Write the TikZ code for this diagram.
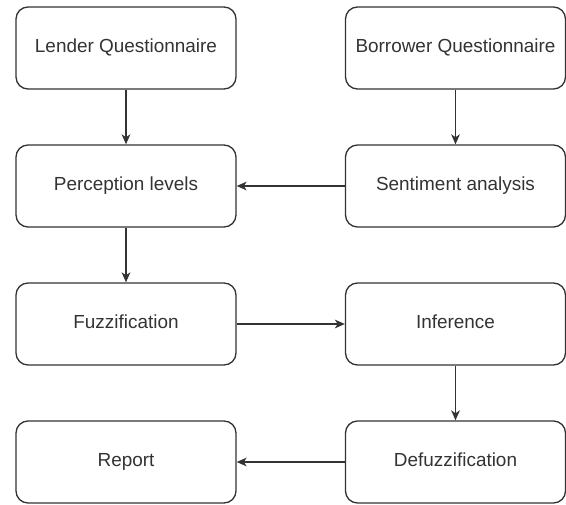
\documentclass[tikz,border=0pt]{standalone}
\usepackage{fontspec}
\setmainfont{Liberation Sans}
\usetikzlibrary{arrows.meta}
\definecolor{ink}{HTML}{333333}
\tikzset{
  box/.style={draw=ink, line width=1pt, rounded corners=9pt, minimum width=165pt, minimum height=61.5pt,
    text=ink, font=\fontsize{14.2pt}{17pt}\selectfont, inner sep=0pt, text height=10.4pt, text depth=3pt},
  conn/.style={draw=ink, line width=1pt, -{Stealth[length=7.5pt,width=6.5pt,inset=2.2pt]}}
}
\begin{document}
\begin{tikzpicture}[x=0.75pt,y=-0.75pt]
\useasboundingbox (0,0) rectangle (566,504);
\node[box] (lq) at (126,48) {Lender Questionnaire};
\node[box] (bq) at (455.5,48) {Borrower Questionnaire};
\node[box] (pl) at (126,186) {Perception levels};
\node[box] (sa) at (455.5,186) {Sentiment analysis};
\node[box] (fz) at (126,324) {Fuzzification};
\node[box] (inf) at (455.5,324) {Inference};
\node[box] (rp) at (126,462) {Report};
\node[box] (dz) at (455.5,462) {Defuzzification};
\draw[conn] (lq) -- (pl);
\draw[conn] (bq) -- (sa);
\draw[conn] (sa) -- (pl);
\draw[conn] (pl) -- (fz);
\draw[conn] (fz) -- (inf);
\draw[conn] (inf) -- (dz);
\draw[conn] (dz) -- (rp);
\end{tikzpicture}
\end{document}
